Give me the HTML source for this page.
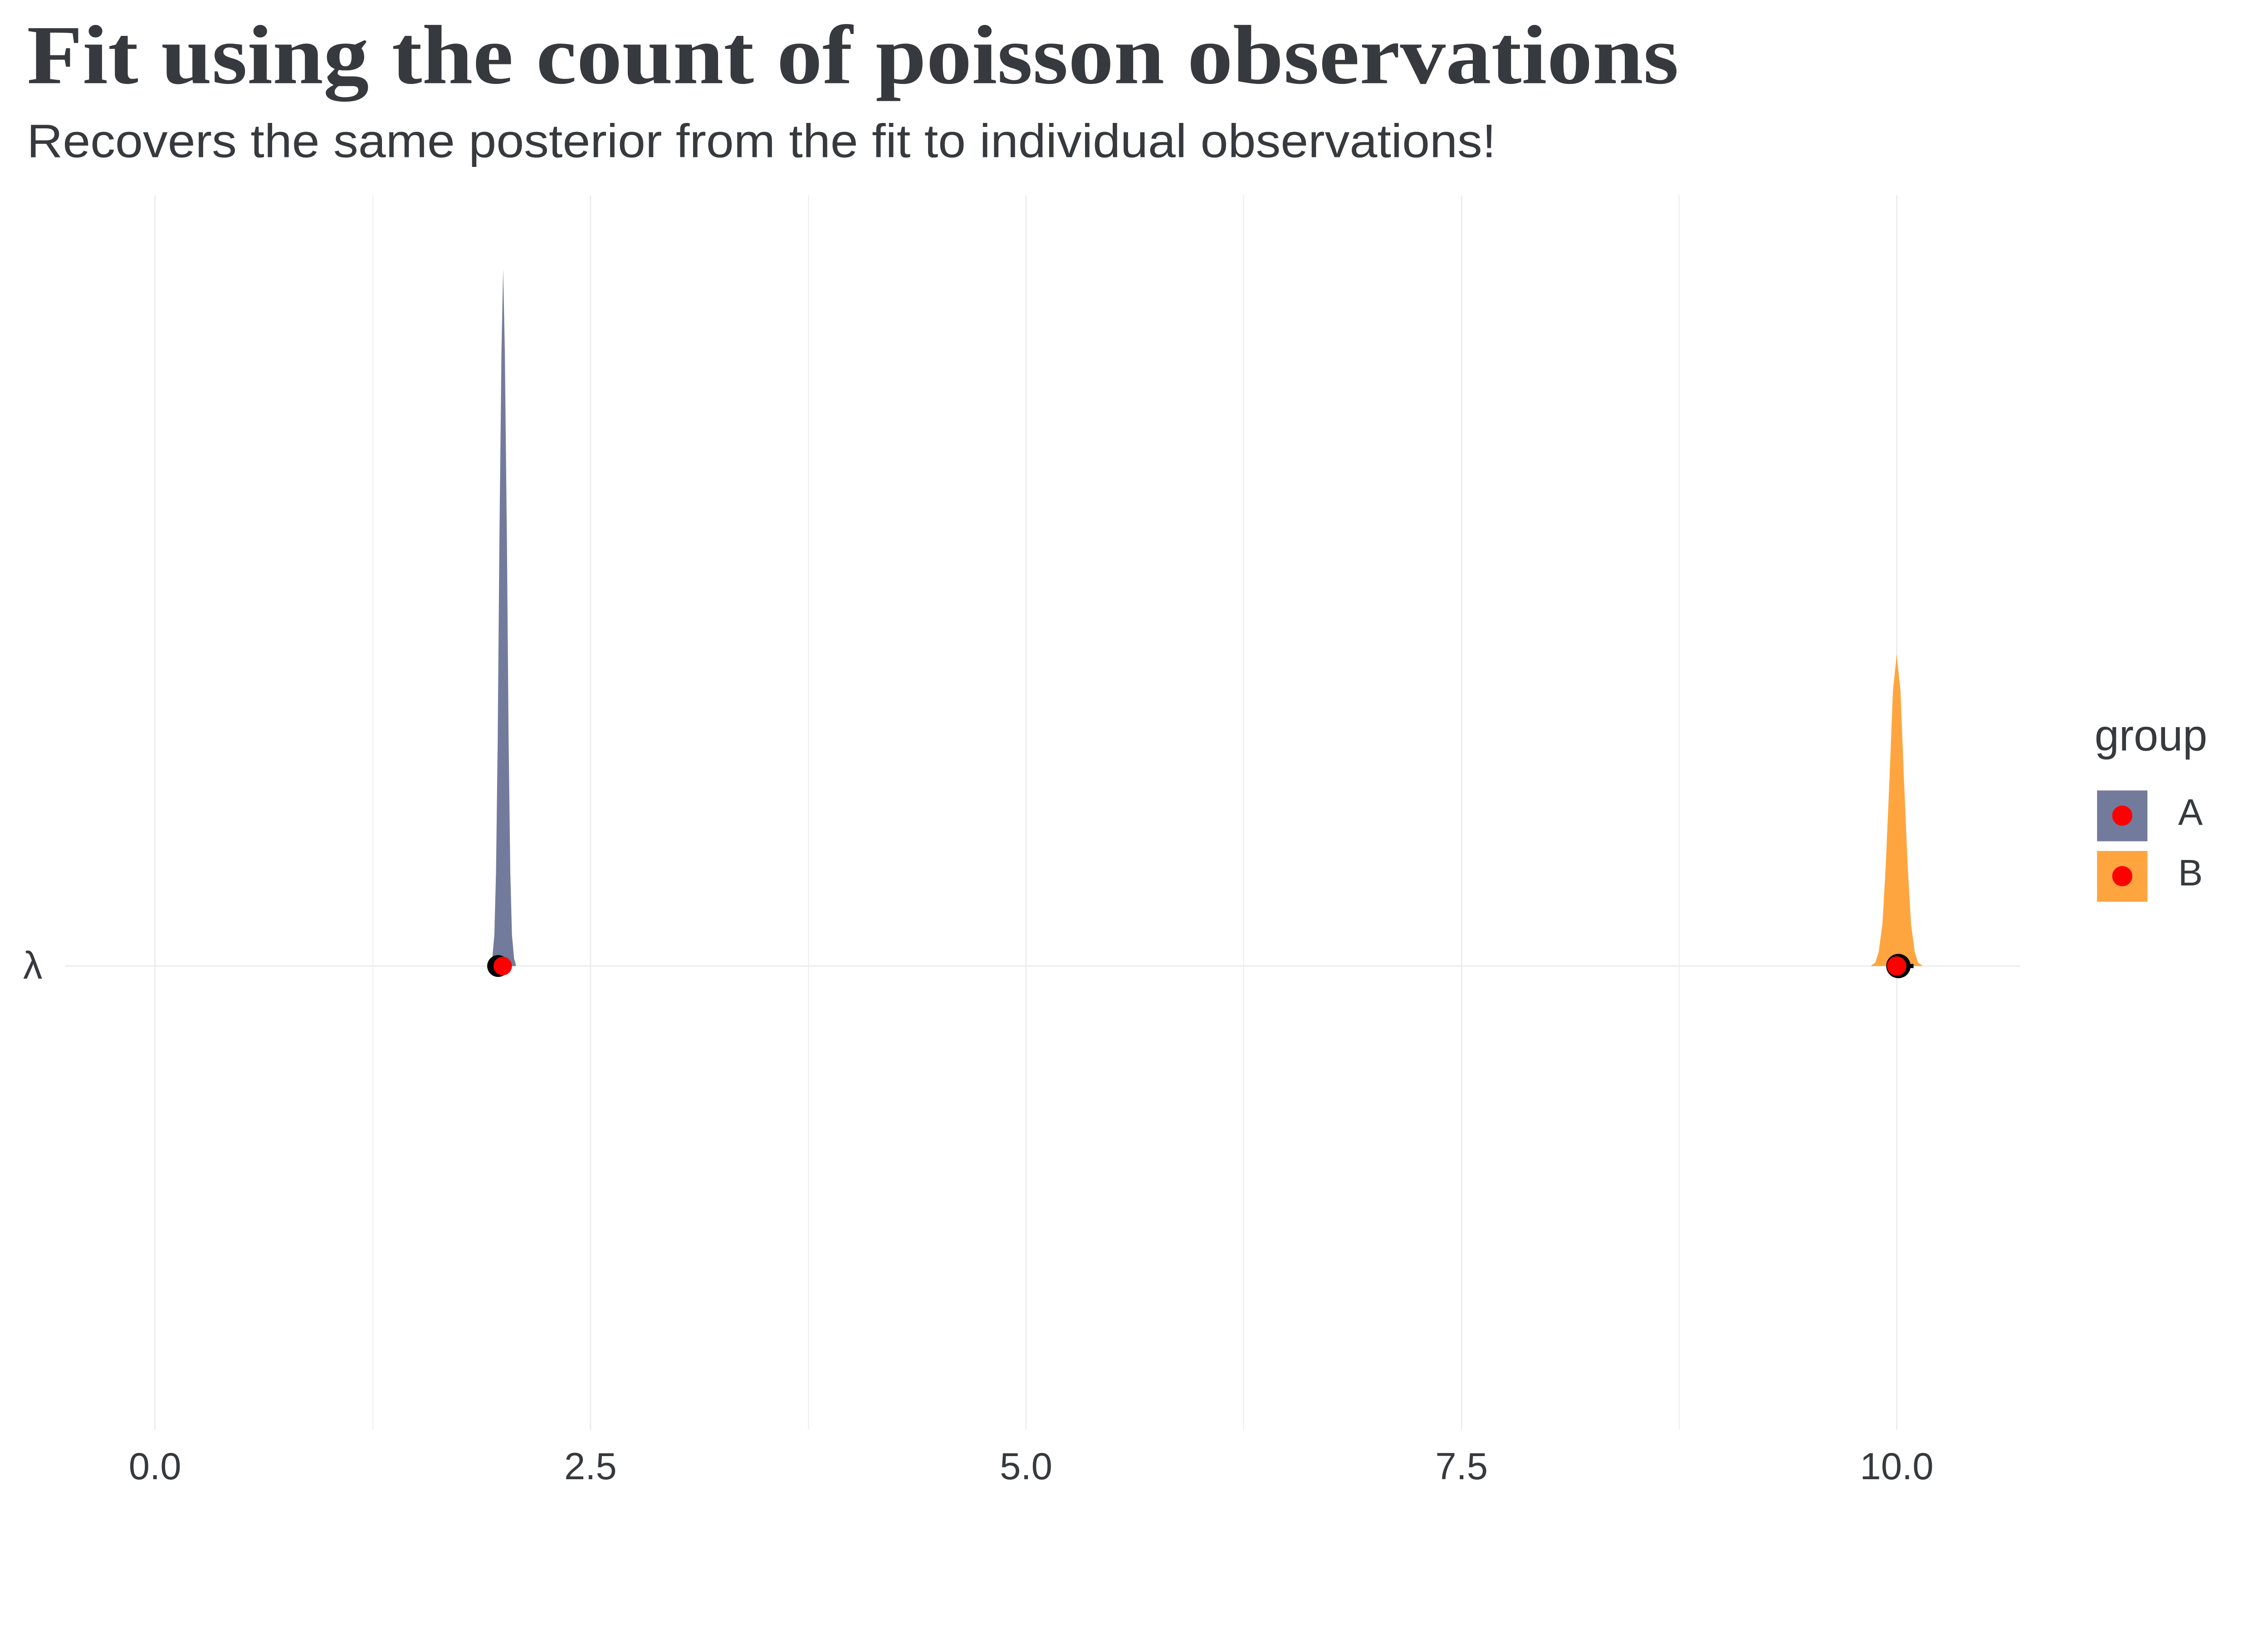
<!DOCTYPE html>
<html><head><meta charset="utf-8"><style>html,body{margin:0;padding:0;background:#fff;overflow:hidden}svg{display:block;width:100vw;height:66.6667vw}</style></head><body>
<svg viewBox="0 0 5400 3600" preserveAspectRatio="xMinYMin meet" xmlns="http://www.w3.org/2000/svg">
<rect width="5400" height="3600" fill="#fff"/>
<text x="64" y="198" font-family="Liberation Serif, serif" font-weight="bold" font-size="200" fill="#36393d" textLength="3933" lengthAdjust="spacingAndGlyphs">Fit using the count of poisson observations</text>
<text x="64" y="374" font-family="Liberation Sans, sans-serif" font-size="112" fill="#36393d" textLength="3498" lengthAdjust="spacingAndGlyphs">Recovers the same posterior from the fit to individual observations!</text>
<g stroke="#ebebeb" stroke-width="3">
<line x1="369" y1="465" x2="369" y2="3404"/><line x1="888" y1="465" x2="888" y2="3404" stroke-width="2"/>
<line x1="1406" y1="465" x2="1406" y2="3404"/><line x1="1925" y1="465" x2="1925" y2="3404" stroke-width="2"/>
<line x1="2443" y1="465" x2="2443" y2="3404"/><line x1="2961" y1="465" x2="2961" y2="3404" stroke-width="2"/>
<line x1="3480" y1="465" x2="3480" y2="3404"/><line x1="3998" y1="465" x2="3998" y2="3404" stroke-width="2"/>
<line x1="4516" y1="465" x2="4516" y2="3404"/>
<line x1="155" y1="2300" x2="4810" y2="2300"/>
</g>
<path d="M1168,2300 L1168,2296 1172,2282 1177,2227 1181,2076 1185,1761 1189,1294 1194,836 1198,641 1202,836 1207,1294 1211,1761 1215,2076 1219,2227 1224,2282 1228,2296 1228,2300Z" fill="#737b9d"/>
<path d="M4456,2300 L4456,2298 4465,2292 4473,2267 4482,2200 4490,2059 4499,1850 4507,1645 4516,1558 4525,1645 4533,1850 4542,2059 4550,2200 4559,2267 4567,2292 4576,2298 4576,2300Z" fill="#ffa53f"/>
<circle cx="1186" cy="2300" r="26" fill="#000"/>
<circle cx="1197" cy="2300" r="22" fill="#f00"/>
<line x1="4500" y1="2300" x2="4556" y2="2300" stroke="#000" stroke-width="10"/>
<circle cx="4520" cy="2300" r="29" fill="#000"/>
<circle cx="4516" cy="2300" r="23" fill="#f00"/>
<g font-family="Liberation Sans, sans-serif" fill="#36393d">
<text x="55" y="2330" font-size="92">λ</text>
<g font-size="90" text-anchor="middle">
<text x="369" y="3522">0.0</text><text x="1406" y="3522">2.5</text><text x="2443" y="3522">5.0</text><text x="3480" y="3522">7.5</text><text x="4516" y="3522">10.0</text>
</g>
<text x="4987" y="1787" font-size="105">group</text>
<text x="5186" y="1964" font-size="88">A</text>
<text x="5186" y="2108" font-size="88">B</text>
</g>
<rect x="4993" y="1882" width="120" height="121" fill="#737b9d"/>
<rect x="4993" y="2026" width="120" height="121" fill="#ffa53f"/>
<circle cx="5053" cy="1942" r="24" fill="#f00"/>
<circle cx="5053" cy="2086" r="24" fill="#f00"/>
</svg>
</body></html>
